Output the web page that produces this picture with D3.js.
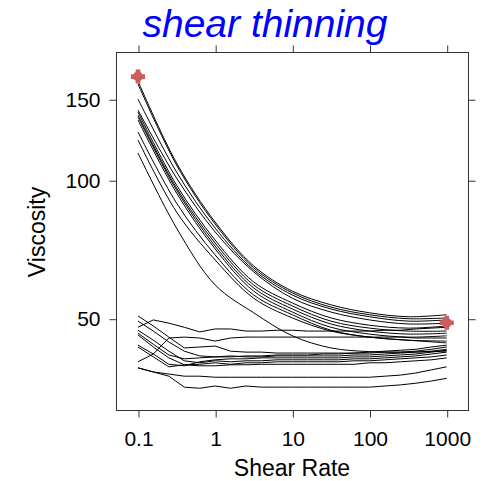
<!DOCTYPE html>
<html>
<head>
<meta charset="utf-8">
<script src="https://cdn.jsdelivr.net/npm/d3@7"></script>
<style>
  body { margin: 0; background: #fff; }
  text { font-family: 'Liberation Sans', Arial, sans-serif; }
</style>
</head>
<body>
<script>
// shear rates for the smooth (thinning) fits and for the step (steady) series
const rateCurve = [0.1, 0.316, 1, 3.16, 10, 31.6, 100, 316, 1000]
const rateStep = [0.1, 0.158, 0.251, 0.398, 0.631, 1, 1.58, 2.51, 3.98, 6.31,
  10, 15.8, 25.1, 39.8, 63.1, 100, 158, 251, 398, 631, 1000]

// viscosity of the samples that thin out
const thinning = [
  [164.3, 109.0, 81.1, 65.1, 57.4, 53.6, 51.5, 50.5, 51.0],
  [161.9, 107.9, 80.3, 64.5, 56.9, 53.0, 51.0, 50.0, 50.2],
  [150.2, 104.2, 78.7, 63.8, 56.3, 52.5, 50.5, 49.4, 49.7],
  [142.1, 101.1, 77.2, 63.2, 55.4, 51.7, 49.7, 48.7, 48.9],
  [140.7, 97.6, 74.1, 60.1, 54.1, 50.2, 48.4, 47.7, 48.2],
  [138.6, 96.2, 73.0, 59.2, 53.3, 49.4, 47.7, 47.0, 47.0],
  [137.3, 95.2, 71.9, 58.3, 52.5, 48.7, 47.0, 46.3, 46.5],
  [135.2, 93.8, 70.9, 57.4, 51.7, 47.9, 46.3, 45.6, 45.9],
  [127.3, 89.2, 68.8, 56.3, 51.0, 47.2, 45.6, 44.9, 44.7],
  [122.3, 85.3, 67.1, 55.4, 50.2, 47.0, 45.6, 44.9, 44.3],
  [114.6, 78.7, 59.2, 51.5, 45.9, 43.2, 42.4, 42.3, 42.5]
]

// viscosity of the samples that stay about flat
const steady = [
  [47.9, 49.7, 48.9, 47.9, 46.8, 47.5, 47.5, 47.0, 47.0, 47.2, 47.2, 47.0, 47.0, 47.0, 47.0, 47.0, 47.2, 47.2, 47.5, 47.7, 47.9],
  [50.7, 48.2, 45.6, 43.2, 43.4, 43.6, 42.5, 42.3, 42.3, 42.1, 42.1, 42.1, 42.1, 42.1, 42.1, 42.1, 42.3, 42.3, 42.5, 42.9, 43.4],
  [49.4, 47.0, 44.5, 42.5, 41.5, 41.3, 41.5, 41.3, 41.3, 41.5, 41.5, 41.5, 41.5, 41.5, 41.7, 41.7, 41.9, 42.1, 42.3, 42.5, 42.9],
  [47.2, 44.9, 42.5, 40.5, 40.1, 40.5, 40.3, 40.5, 40.5, 40.7, 40.7, 40.7, 40.7, 40.7, 40.9, 40.9, 41.1, 41.3, 41.5, 41.9, 42.3],
  [46.5, 44.0, 41.7, 40.9, 41.1, 41.3, 41.3, 41.5, 41.5, 41.7, 41.7, 41.7, 41.9, 41.9, 42.1, 42.3, 42.5, 42.7, 42.9, 43.4, 43.8],
  [46.1, 43.4, 41.1, 39.7, 39.8, 40.1, 39.8, 40.1, 40.1, 40.3, 40.3, 40.3, 40.3, 40.3, 40.5, 40.5, 40.7, 40.9, 41.1, 41.3, 41.7],
  [40.3, 41.9, 45.4, 45.6, 45.4, 44.7, 45.4, 45.6, 45.6, 45.6, 45.6, 45.6, 45.6, 45.6, 45.6, 45.6, 45.6, 45.6, 45.4, 45.4, 45.4],
  [43.8, 41.9, 39.8, 39.5, 40.3, 40.7, 40.9, 40.9, 41.1, 41.1, 41.1, 41.1, 41.1, 41.1, 41.3, 41.3, 41.5, 41.7, 41.9, 42.3, 42.7],
  [43.4, 41.3, 39.3, 39.7, 39.5, 39.5, 39.7, 39.7, 39.8, 39.8, 39.8, 39.8, 39.8, 39.8, 39.8, 40.1, 40.1, 40.3, 40.5, 40.7, 41.1],
  [39.1, 38.3, 37.9, 37.5, 37.5, 37.3, 37.3, 37.3, 37.3, 37.3, 37.3, 37.3, 37.3, 37.3, 37.3, 37.3, 37.5, 37.7, 38.1, 38.7, 39.3],
  [39.1, 38.3, 37.5, 35.5, 35.3, 35.7, 35.3, 35.7, 35.5, 35.5, 35.5, 35.5, 35.5, 35.5, 35.5, 35.5, 35.7, 35.9, 36.2, 36.6, 37.1]
]

// highlighted end points
const markRate = [0.1, 1000]
const markVisc = [168, 49]

const xTicks = [0.1, 1, 10, 100, 1000]
const xTickLabels = ['0.1', '1', '10', '100', '1000']
const yTicks = [50, 100, 150]

const W = 487, H = 481
const panel = { left: 116, right: 468, top: 52, bottom: 410 }

var svg = d3.select('body').append('svg')
  .attr('width', W)
  .attr('height', H)

var x = d3.scaleLog().domain([0.0519, 1888]).range([panel.left, panel.right])
var y = d3.scaleLog().domain([31.66, 190]).range([panel.bottom, panel.top])

// lines
var smooth = d3.line()
  .x((d, i) => x(rateCurve[i]))
  .y(d => y(d))
  .curve(d3.curveCatmullRom.alpha(0.5))

var step = d3.line()
  .x((d, i) => x(rateStep[i]))
  .y(d => y(d))

var g = svg.append('g')

g.selectAll('path.thin')
  .data(thinning)
  .enter().append('path')
    .attr('class', 'thin')
    .attr('d', smooth)
    .attr('fill', 'none')
    .attr('stroke', '#000')
    .attr('stroke-width', 1)

g.selectAll('path.steady')
  .data(steady)
  .enter().append('path')
    .attr('class', 'steady')
    .attr('d', step)
    .attr('fill', 'none')
    .attr('stroke', '#000')
    .attr('stroke-width', 1)

// red marks
var marks = g.selectAll('g.mark')
  .data(markRate)
  .enter().append('g')
    .attr('class', 'mark')
    .attr('transform', (d, i) => `translate(${x(d)},${y(markVisc[i])})`)
    .attr('fill', '#cd5c5c')

marks.append('circle').attr('r', 5)
marks.append('path').attr('d', d3.symbol(d3.symbolCross, 110))

// panel frame
svg.append('rect')
  .attr('x', panel.left + 0.5)
  .attr('y', panel.top + 0.5)
  .attr('width', panel.right - panel.left)
  .attr('height', panel.bottom - panel.top)
  .attr('fill', 'none')
  .attr('stroke', '#333')

// axes
var fs = '21px'
svg.append('g')
  .attr('transform', `translate(0.5,${panel.bottom + 0.5})`)
  .call(d3.axisBottom(x).tickValues(xTicks).tickFormat((d, i) => xTickLabels[i]).tickSize(7).tickPadding(14))
svg.append('g')
  .attr('transform', `translate(0.5,${panel.top + 0.5})`)
  .call(d3.axisTop(x).tickValues(xTicks).tickFormat('').tickSize(7))
svg.append('g')
  .attr('transform', `translate(${panel.left + 0.5},0.5)`)
  .call(d3.axisLeft(y).tickValues(yTicks).tickFormat(d3.format('d')).tickSize(7).tickPadding(9))
svg.append('g')
  .attr('transform', `translate(${panel.right + 0.5},0.5)`)
  .call(d3.axisRight(y).tickValues(yTicks).tickFormat('').tickSize(7))

svg.selectAll('.domain').remove()
svg.selectAll('.tick line').attr('stroke', '#333')
svg.selectAll('.tick text')
  .attr('fill', '#000')
  .style('font-size', fs)
  .style('font-family', "'Liberation Sans', Arial, sans-serif")

// labels
svg.append('text')
  .attr('x', 292)
  .attr('y', 476)
  .attr('text-anchor', 'middle')
  .style('font-size', '23px')
  .text('Shear Rate')

svg.append('text')
  .attr('transform', 'translate(45,232) rotate(-90)')
  .attr('text-anchor', 'middle')
  .style('font-size', '23px')
  .text('Viscosity')

svg.append('text')
  .attr('x', 265)
  .attr('y', 37)
  .attr('text-anchor', 'middle')
  .attr('fill', '#0000ff')
  .style('font-size', '39px')
  .style('font-style', 'italic')
  .text('shear thinning')
</script>
</body>
</html>
